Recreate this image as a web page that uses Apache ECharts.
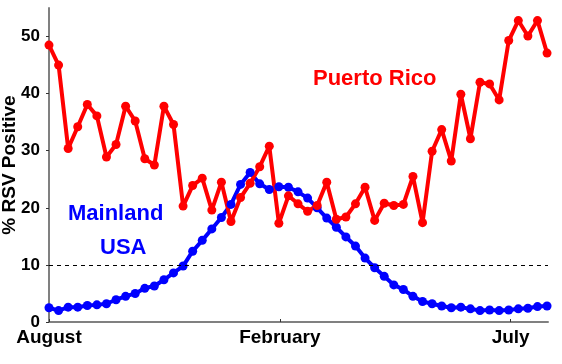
<!DOCTYPE html>
<html>
<head>
<meta charset="utf-8">
<script src="https://cdn.jsdelivr.net/npm/echarts@6/dist/echarts.min.js"></script>
<style>
  html, body { margin: 0; padding: 0; background: #fff; }
  #chart { width: 562px; height: 364px; }
</style>
</head>
<body>
<div id="chart"></div>
<script>
var chart = echarts.init(document.getElementById('chart'));

// weekly values, August -> July
var puertoRico = [48.5, 45.0, 30.4, 34.2, 38.1, 36.1, 28.9, 31.1, 37.8, 35.2,
    28.6, 27.5, 37.8, 34.6, 20.3, 23.9, 25.2, 19.6, 24.5, 17.6,
    21.8, 24.3, 27.2, 30.8, 17.3, 22.1, 20.7, 19.4, 20.4, 24.5,
    18.0, 18.4, 20.7, 23.6, 17.8, 20.8, 20.4, 20.6, 25.5, 17.4,
    29.9, 33.7, 28.2, 39.9, 32.1, 42.0, 41.7, 38.9, 49.3, 52.8,
    50.1, 52.8, 47.1];
var mainland = [2.5, 2.0, 2.6, 2.6, 2.9, 3.0, 3.2, 3.9, 4.5, 5.0,
    5.9, 6.3, 7.4, 8.6, 9.8, 12.4, 14.3, 16.3, 18.3, 20.6,
    24.1, 26.2, 24.2, 23.2, 23.7, 23.6, 22.8, 21.7, 20.0, 18.2,
    16.6, 14.9, 13.3, 11.2, 9.5, 8.0, 6.5, 5.7, 4.5, 3.6,
    3.2, 2.8, 2.5, 2.6, 2.3, 2.0, 2.1, 2.0, 2.1, 2.3,
    2.4, 2.7, 2.8];
var monthNames = ['August', 'February', 'July'];
var monthWeeks = [0, 24.1, 48.2];
var yTicks = [0, 10, 20, 30, 40, 50];
var threshold = 10;

function toPairs(arr) {
    return arr.map(function (v, i) { return [i, v]; });
}

var font = 'Liberation Sans, Arial, sans-serif';

var option = {
    animation: false,
    grid: { left: 49, right: 14, top: 8, bottom: 42, outerBoundsMode: 'none', containLabel: false },
    xAxis: {
        type: 'value',
        min: 0,
        max: 52.1,
        axisLine: { lineStyle: { color: '#808080', width: 2 } },
        axisTick: { show: true, inside: true, length: 3, customValues: monthWeeks, lineStyle: { color: '#333' } },
        axisLabel: {
            customValues: monthWeeks,
            margin: 6,
            color: '#000',
            fontSize: 19,
            fontWeight: 'bold',
            fontFamily: font,
            formatter: function (v) {
                var i = monthWeeks.indexOf(v);
                return i >= 0 ? monthNames[i] : '';
            }
        },
        splitLine: { show: false }
    },
    yAxis: {
        type: 'value',
        min: 0,
        max: 55,
        name: '% RSV Positive',
        nameLocation: 'middle',
        nameGap: 30,
        nameMoveOverlap: false,
        nameTextStyle: { color: '#000', fontSize: 19, fontWeight: 'bold', fontFamily: font },
        axisLine: { show: true, lineStyle: { color: '#808080', width: 2 } },
        axisTick: { show: true, length: 3, customValues: yTicks, lineStyle: { color: '#333' } },
        axisLabel: {
            customValues: yTicks,
            margin: 9,
            color: '#000',
            fontSize: 17,
            fontWeight: 'bold',
            fontFamily: font
        },
        splitLine: { show: false }
    },
    graphic: [
        { type: 'text', left: 313, top: 68, style: { text: 'Puerto Rico', fill: '#ff0000', font: 'bold 22px ' + font } },
        { type: 'text', left: 68, top: 203, style: { text: 'Mainland', fill: '#0000ff', font: 'bold 22px ' + font } },
        { type: 'text', left: 100, top: 237, style: { text: 'USA', fill: '#0000ff', font: 'bold 22px ' + font } }
    ],
    series: [
        {
            name: 'Mainland USA',
            type: 'line',
            data: toPairs(mainland),
            symbol: 'circle',
            symbolSize: 9,
            lineStyle: { color: '#0000ff', width: 4 },
            itemStyle: { color: '#0000ff' },
            markLine: {
                silent: true,
                symbol: 'none',
                label: { show: false },
                lineStyle: { color: '#000', type: [4, 4], width: 1 },
                data: [{ yAxis: threshold }]
            }
        },
        {
            name: 'Puerto Rico',
            type: 'line',
            data: toPairs(puertoRico),
            symbol: 'circle',
            symbolSize: 9,
            lineStyle: { color: '#ff0000', width: 4 },
            itemStyle: { color: '#ff0000' }
        }
    ]
};

chart.setOption(option);
</script>
</body>
</html>
